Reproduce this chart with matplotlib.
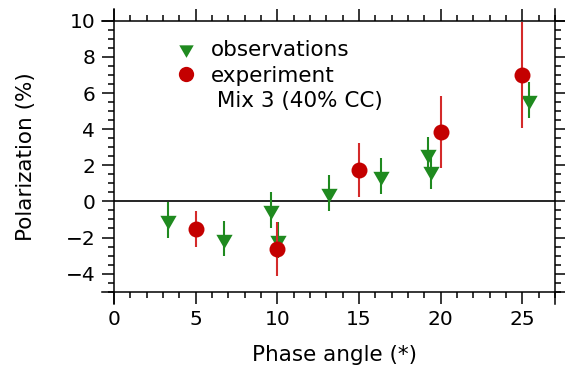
import matplotlib
matplotlib.use("Agg")
import matplotlib.pyplot as plt
from matplotlib.ticker import MultipleLocator
from matplotlib.lines import Line2D

# Data
obs_x = [3.33, 6.74, 9.61, 10.02, 13.14, 16.35, 19.25, 19.41, 25.43]
obs_y = [-1.05, -2.07, -0.46, -2.13, 0.46, 1.40, 2.61, 1.66, 5.60]
obs_err = [1.0, 0.97, 1.0, 1.0, 1.0, 1.0, 0.95, 0.97, 1.0]

exp_x = [5.0, 10.0, 15.0, 20.0, 25.0]
exp_y = [-1.53, -2.63, 1.72, 3.83, 7.0]
exp_err = [1.0, 1.5, 1.5, 2.0, 2.95]

x_ticks = [0, 5, 10, 15, 20, 25]
y_ticks = [-4, -2, 0, 2, 4, 6, 8, 10]

green = "#1f8a1f"
red = "#c40000"
red_bar = "#d42a2a"

tri = [(-1, 0.5774), (1, 0.5774), (0, -1.1547)]

plt.rcParams['font.family'] = ['DejaVu Sans']
fig = plt.figure(figsize=(5.65, 3.74), dpi=100)
ax = fig.add_axes([0.2018, 0.22, 0.7805, 0.7245])

ax.axhline(0, color="black", lw=1.2, zorder=1)

ax.errorbar(obs_x, obs_y, yerr=obs_err, fmt="none", ecolor=green, elinewidth=1.5, capsize=0, zorder=2)
ax.plot(obs_x, obs_y, linestyle="none", marker=tri, markersize=13.5, color=green, markeredgewidth=0, zorder=3)
ax.errorbar(exp_x, exp_y, yerr=exp_err, fmt="none", ecolor=red_bar, elinewidth=1.5, capsize=0, zorder=4)
ax.plot(exp_x, exp_y, linestyle="none", marker="o", markersize=11.5, color=red, markeredgewidth=0, zorder=5)

ax.set_xlim(0, 27)
ax.set_ylim(-5, 10)
ax.set_xticks(x_ticks)
ax.set_yticks(y_ticks)
ax.xaxis.set_minor_locator(MultipleLocator(1))
ax.yaxis.set_minor_locator(MultipleLocator(0.5))
ax.tick_params(which="both", direction="out", top=True, right=True, width=1.1, labelsize=14.5, colors="black")
ax.tick_params(which="major", length=8.5, pad=5)
ax.tick_params(which="minor", length=4.5)

for s in ax.spines.values():
    s.set_linewidth(1.1)
ax.spines["left"].set_bounds(-5.67, 10.67)
ax.spines["right"].set_bounds(-5.67, 10.67)
ax.spines["top"].set_bounds(-0.73, 27.73)
ax.spines["bottom"].set_bounds(-0.73, 27.73)

ax.set_xlabel("Phase angle (*)", fontsize=15.5, labelpad=11)
ax.set_ylabel("Polarization (%)", fontsize=15.5, labelpad=21)

handles = [
    Line2D([], [], linestyle="none", marker=tri, markersize=12, color=green, markeredgewidth=0),
    Line2D([], [], linestyle="none", marker="o", markersize=11, color=red, markeredgewidth=0),
    Line2D([], [], linestyle="none", marker="none"),
]
labels = ["observations", "experiment", " Mix 3 (40% CC)"]
ax.legend(handles, labels, loc="upper left", bbox_to_anchor=(0.117, 0.968), frameon=False,
          fontsize=15.5, handlelength=0.9, handletextpad=0.68, labelspacing=0.25, borderpad=0)

fig.savefig("out.png", dpi=100)
